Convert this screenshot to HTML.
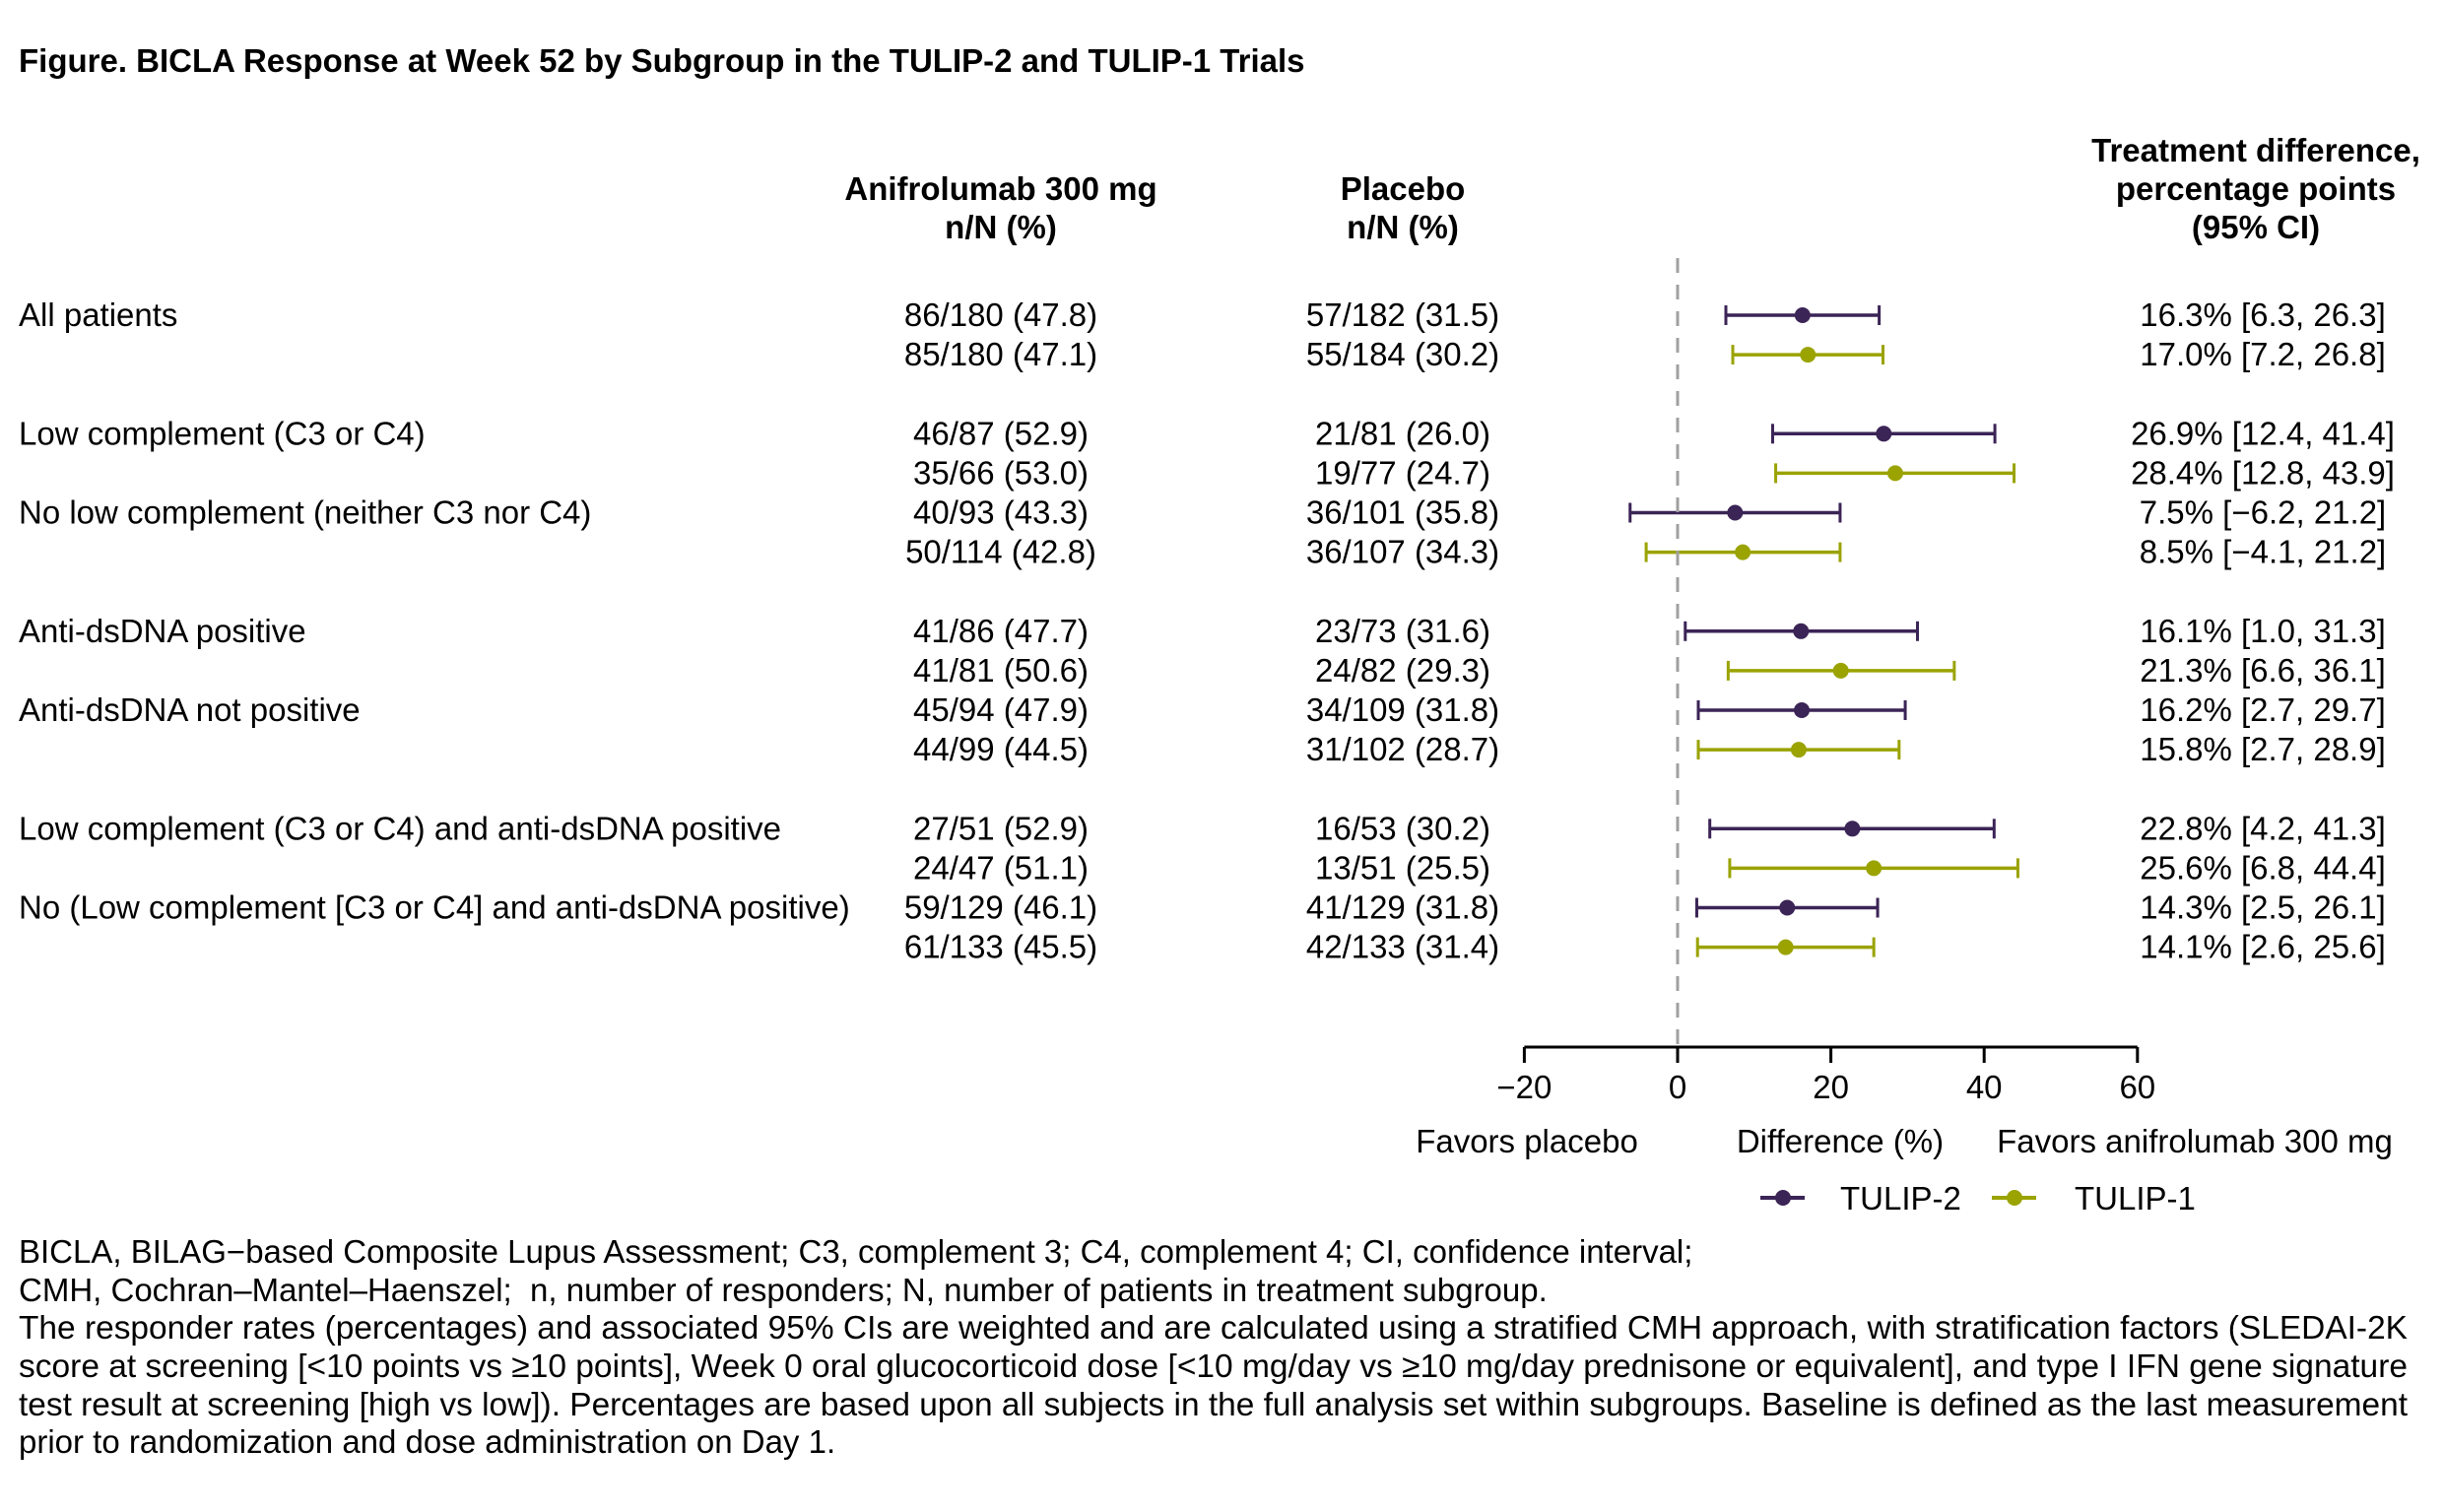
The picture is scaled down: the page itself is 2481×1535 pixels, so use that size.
<!DOCTYPE html>
<html><head><meta charset="utf-8"><style>
html,body{margin:0;padding:0;background:#fff}
svg{display:block}
text{font-family:"Liberation Sans",Arial,sans-serif;font-size:33px;fill:#000}
</style></head><body>
<svg id="chart" width="2481" height="1535" viewBox="0 0 2481 1535" xmlns="http://www.w3.org/2000/svg">
<text x="19" y="73" font-weight="bold">Figure. BICLA Response at Week 52 by Subgroup in the TULIP-2 and TULIP-1 Trials</text>
<g>
<text x="1016" y="203" font-weight="bold" text-anchor="middle">Anifrolumab 300 mg</text>
<text x="1016" y="242" font-weight="bold" text-anchor="middle">n/N (%)</text>
<text x="1424" y="203" font-weight="bold" text-anchor="middle">Placebo</text>
<text x="1424" y="242" font-weight="bold" text-anchor="middle">n/N (%)</text>
<text x="2290" y="164" font-weight="bold" text-anchor="middle">Treatment difference,</text>
<text x="2290" y="203" font-weight="bold" text-anchor="middle">percentage points</text>
<text x="2290" y="242" font-weight="bold" text-anchor="middle">(95% CI)</text>
</g>
<g id="rows"></g>
<g id="axis"></g>
<text x="1550" y="1170" text-anchor="middle">Favors placebo</text>
<text x="1868" y="1170" text-anchor="middle">Difference (%)</text>
<text x="2228" y="1170" text-anchor="middle">Favors anifrolumab 300 mg</text>
<g>
<g>
<line x1="1787" y1="1216" x2="1832" y2="1216" stroke="#3b2456" stroke-width="4"/>
<circle cx="1810" cy="1216" r="8" fill="#3b2456"/>
<text x="1868" y="1228">TULIP-2</text></g>
<g>
<line x1="2022" y1="1216" x2="2067" y2="1216" stroke="#9aa300" stroke-width="4"/>
<circle cx="2045" cy="1216" r="8" fill="#9aa300"/>
<text x="2106" y="1228">TULIP-1</text></g>
</g>
<g>
<text x="19" y="1282">BICLA, BILAG−based Composite Lupus Assessment; C3, complement 3; C4, complement 4; CI, confidence interval;</text>
<text x="19" y="1321" xml:space="preserve">CMH, Cochran–Mantel–Haenszel;  n, number of responders; N, number of patients in treatment subgroup.</text>
<text x="19" y="1359" textLength="2425" lengthAdjust="spacingAndGlyphs">The responder rates (percentages) and associated 95% CIs are weighted and are calculated using a stratified CMH approach, with stratification factors (SLEDAI-2K</text>
<text x="19" y="1398" textLength="2425" lengthAdjust="spacingAndGlyphs">score at screening [&lt;10 points vs ≥10 points], Week 0 oral glucocorticoid dose [&lt;10 mg/day vs ≥10 mg/day prednisone or equivalent], and type I IFN gene signature</text>
<text x="19" y="1437" textLength="2425" lengthAdjust="spacingAndGlyphs">test result at screening [high vs low]). Percentages are based upon all subjects in the full analysis set within subgroups. Baseline is defined as the last measurement</text>
<text x="19" y="1475">prior to randomization and dose administration on Day 1.</text>
</g>
</svg>
<script>
const labels=["All patients","","Low complement (C3 or C4)","","No low complement (neither C3 nor C4)","","Anti-dsDNA positive","","Anti-dsDNA not positive","","Low complement (C3 or C4) and anti-dsDNA positive","","No (Low complement [C3 or C4] and anti-dsDNA positive)",""];
const trials=["TULIP-2","TULIP-1","TULIP-2","TULIP-1","TULIP-2","TULIP-1","TULIP-2","TULIP-1","TULIP-2","TULIP-1","TULIP-2","TULIP-1","TULIP-2","TULIP-1"];
const aniText=["86/180 (47.8)","85/180 (47.1)","46/87 (52.9)","35/66 (53.0)","40/93 (43.3)","50/114 (42.8)","41/86 (47.7)","41/81 (50.6)","45/94 (47.9)","44/99 (44.5)","27/51 (52.9)","24/47 (51.1)","59/129 (46.1)","61/133 (45.5)"];
const plaText=["57/182 (31.5)","55/184 (30.2)","21/81 (26.0)","19/77 (24.7)","36/101 (35.8)","36/107 (34.3)","23/73 (31.6)","24/82 (29.3)","34/109 (31.8)","31/102 (28.7)","16/53 (30.2)","13/51 (25.5)","41/129 (31.8)","42/133 (31.4)"];
const est=[16.3,17.0,26.9,28.4,7.5,8.5,16.1,21.3,16.2,15.8,22.8,25.6,14.3,14.1];
const lo=[6.3,7.2,12.4,12.8,-6.2,-4.1,1.0,6.6,2.7,2.7,4.2,6.8,2.5,2.6];
const hi=[26.3,26.8,41.4,43.9,21.2,21.2,31.3,36.1,29.7,28.9,41.3,44.4,26.1,25.6];
const rowSlot=[0,1,3,4,5,6,8,9,10,11,13,14,15,16];
const ticks=[-20,0,20,40,60];
const NS="http://www.w3.org/2000/svg";
const X=v=>1703+v*7.78;
const Y=s=>320+s*40.1;
const colors={"TULIP-2":"#3b2456","TULIP-1":"#9aa300"};
function mk(tag,attrs,parent,txt){const e=document.createElementNS(NS,tag);for(const k in attrs)e.setAttribute(k,attrs[k]);if(txt!==undefined)e.textContent=txt;parent.appendChild(e);return e;}
const rows=document.getElementById('rows');
const axis=document.getElementById('axis');
const zl=mk('line',{x1:X(0),x2:X(0),y1:262,y2:1063,stroke:'#a0a0a0','stroke-width':3,'stroke-dasharray':'15,12'},axis);


const al=mk('line',{x1:X(ticks[0]),x2:X(ticks[ticks.length-1]),y1:1063,y2:1063,stroke:'#000','stroke-width':3},axis);


ticks.forEach(t=>{
 const tl=mk('line',{x1:X(t),x2:X(t),y1:1063,y2:1079,stroke:'#000','stroke-width':3},axis);
 
 
 const tt=mk('text',{x:X(t),y:1115,'text-anchor':'middle'},axis,t<0?'−'+Math.abs(t):String(t));
 
 
});
est.forEach((v,i)=>{
 const y=Y(rowSlot[i]);const c=colors[trials[i]];
 if(labels[i]){const l=mk('text',{x:19,y:y+11},rows,labels[i]);
  
  }
 const a=mk('text',{x:1016,y:y+11,'text-anchor':'middle'},rows,aniText[i]);
 
 
 const p=mk('text',{x:1424,y:y+11,'text-anchor':'middle'},rows,plaText[i]);
 
 
 const d=mk('text',{x:2297,y:y+11,'text-anchor':'middle'},rows,v.toFixed(1)+'% ['+(lo[i]<0?'−'+Math.abs(lo[i]).toFixed(1):lo[i].toFixed(1))+', '+hi[i].toFixed(1)+']');
 
 
 const g=mk('g',{},rows);
 
 
 mk('line',{x1:X(lo[i]),x2:X(hi[i]),y1:y,y2:y,stroke:c,'stroke-width':3.5},g);
 mk('line',{x1:X(lo[i]),x2:X(lo[i]),y1:y-10,y2:y+10,stroke:c,'stroke-width':3},g);
 mk('line',{x1:X(hi[i]),x2:X(hi[i]),y1:y-10,y2:y+10,stroke:c,'stroke-width':3},g);
 mk('circle',{cx:X(v),cy:y,r:8,fill:c},g);
});
</script>
</body></html>
